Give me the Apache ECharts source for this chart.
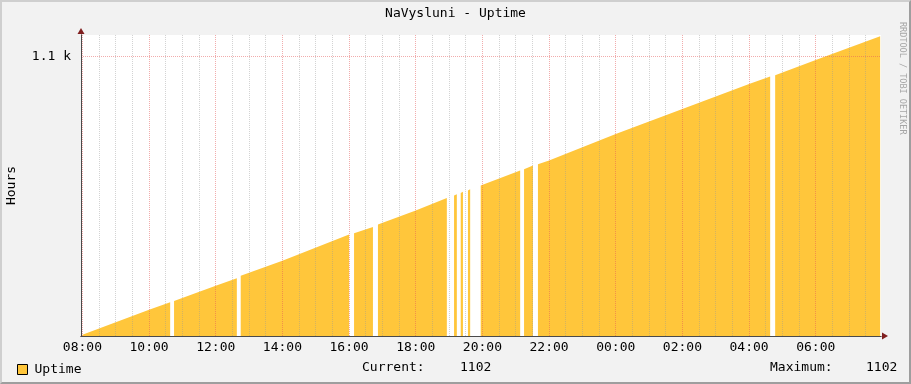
<!DOCTYPE html>
<html><head><meta charset="utf-8">
<script src="https://cdn.jsdelivr.net/npm/echarts@6/dist/echarts.min.js"></script>
<style>
html,body{margin:0;padding:0;background:#f2f2f2;}
#wrap{position:relative;width:911px;height:384px;overflow:hidden;}
#chart{position:absolute;left:0;top:0;width:911px;height:384px;}
#frame{position:absolute;left:0;top:0;width:911px;height:384px;box-sizing:border-box;border-top:2px solid #cfcfcf;border-left:2px solid #cfcfcf;border-right:2px solid #9e9e9e;border-bottom:2px solid #9e9e9e;pointer-events:none;}
</style></head><body>
<div id="wrap"><div id="chart"></div><div id="frame"></div></div>
<script>
// ---- data ----
const chartTitle = 'NaVysluni - Uptime';
const seriesName = 'Uptime';
const yAxisName = 'Hours';
const watermark = 'RRDTOOL / TOBI OETIKER';

// sample times (HH:MM, window starts 08:00, ends next morning); null values = no data (gaps)
const times = [
  '08:00','10:00','10:38','10:41',
  '10:45','12:00','12:38','12:41',
  '12:45','14:00','16:00','16:04',
  '16:09','16:43','16:47',
  '16:52','18:00','18:56','19:02',
  '19:09','19:14','19:17',
  '19:21','19:25','19:30',
  '19:34','19:38','19:47',
  '19:57','20:00','21:08','21:11',
  '21:15','21:31','21:35',
  '21:40','22:00','00:00','02:00','04:00','04:38','04:42',
  '04:47','06:00','07:56'
];
const uptime = [
  1077.8, 1079.8, 1080.4, null,
  1080.5, 1081.7, 1082.3, null,
  1082.5, 1083.7, 1085.8, null,
  1085.9, 1086.4, null,
  1086.6, 1087.7, 1088.7, null,
  1088.9, 1089.0, null,
  1089.1, 1089.2, null,
  1089.3, 1089.4, null,
  1089.7, 1089.8, 1090.9, null,
  1091.0, 1091.3, null,
  1091.4, 1091.7, 1093.8, 1095.8, 1097.8, 1098.4, null,
  1098.5, 1099.7, 1101.6
];
const xTickLabels = ['08:00','10:00','12:00','14:00','16:00','18:00','20:00','22:00','00:00','02:00','04:00','06:00'];
const yTickValues = [1100];

// ---- helpers ----
const FONT = '"DejaVu Sans Mono", monospace';
function toMin(s){ const p = s.split(':').map(Number); let v = p[0]*60 + p[1] - 480; if (v < 0) v += 1440; return v; }
function fmtMin(m){ const t = ((Math.round(m) + 480) % 1440 + 1440) % 1440; const h = Math.floor(t/60), mm = t % 60; return (h<10?'0':'')+h+':'+(mm<10?'0':'')+mm; }

const xMin = -2.5, xMax = 1437.5;
const yMin = 1077.7, yMax = 1101.7;
const majorTicks = xTickLabels.map(toMin);
const minorTicks = [];
for (let m = 0; m <= xMax; m += 30) { if (m % 120 !== 0) minorTicks.push(m); }

const seriesData = times.map((t, i) => [toMin(t), uptime[i] === null ? '-' : uptime[i]]);
const valid = uptime.filter(v => v !== null);
const current = Math.round(valid[valid.length - 1]);
const maximum = Math.round(Math.max.apply(null, valid));

const MAJOR = 'rgba(228,90,90,0.5)';
const MINOR = 'rgba(150,150,150,0.42)';

const chart = echarts.init(document.getElementById('chart'), null, {renderer: 'canvas'});
chart.setOption({
  animation: false,
  backgroundColor: '#f2f2f2',
  title: {
    text: chartTitle, left: 'center', top: 2,
    textStyle: {fontFamily: FONT, fontSize: 13, fontWeight: 'normal', color: '#000'}
  },
  legend: {
    data: [seriesName], left: 12, top: 358, icon: 'rect',
    itemWidth: 10, itemHeight: 10, itemGap: 10,
    itemStyle: {borderColor: '#000', borderWidth: 1},
    textStyle: {fontFamily: FONT, fontSize: 13, color: '#000', padding: [0,0,0,2]}
  },
  grid: {left: 81, right: 30, top: 35, bottom: 48, outerBoundsMode: 'none', containLabel: false,
    show: true, backgroundColor: '#ffffff', borderWidth: 0},
  xAxis: [{
    type: 'value', min: xMin, max: xMax, z: 4,
    axisLine: {show: true, onZero: false, lineStyle: {color: '#4a4a4a', width: 1}},
    axisTick: {show: false, customValues: majorTicks},
    axisLabel: {show: true, customValues: majorTicks, margin: 5, formatter: v => fmtMin(v),
      fontFamily: FONT, fontSize: 13, color: '#000'},
    splitLine: {show: true, lineStyle: {color: MAJOR, width: 1, type: [1,1]}}
  }, {
    type: 'value', min: xMin, max: xMax, position: 'bottom', z: 3,
    axisLine: {show: true, onZero: false, symbol: ['none','triangle'], symbolSize: [7,6], symbolOffset: [0, 4],
      lineStyle: {color: '#801f1f', width: 1}},
    axisTick: {show: false, customValues: minorTicks},
    axisLabel: {show: false},
    splitLine: {show: true, lineStyle: {color: MINOR, width: 1, type: [1,1]}}
  }],
  yAxis: [{
    type: 'value', min: yMin, max: yMax, z: 4,
    name: yAxisName, nameLocation: 'middle', nameGap: 63, nameRotate: 90,
    nameTextStyle: {fontFamily: FONT, fontSize: 13, color: '#000'},
    axisLine: {show: true, onZero: false, lineStyle: {color: '#4a4a4a', width: 1}},
    axisTick: {show: false, customValues: yTickValues},
    axisLabel: {show: true, customValues: yTickValues, margin: 10,
      formatter: v => (v/1000).toFixed(1) + ' k', fontFamily: FONT, fontSize: 13, color: '#000'},
    splitLine: {show: true, lineStyle: {color: MAJOR, width: 1, type: [1,1]}}
  }, {
    type: 'value', min: yMin, max: yMax, position: 'left', z: 3,
    axisLine: {show: true, onZero: false, symbol: ['none','triangle'], symbolSize: [7,6], symbolOffset: [0, 4],
      lineStyle: {color: '#801f1f', width: 1}},
    axisTick: {show: false}, axisLabel: {show: false}, splitLine: {show: false}
  }],
  series: [{
    name: seriesName, type: 'line', xAxisIndex: 0, yAxisIndex: 0, z: 1,
    data: seriesData, showSymbol: false, connectNulls: false,
    itemStyle: {color: '#FFC63B'},
    lineStyle: {width: 0, color: '#FFC63B'},
    areaStyle: {color: '#FFC63B', opacity: 1, origin: 'start'},
    silent: true
  }],
  graphic: [
    {type: 'text', x: 362, y: 368, style: {text: 'Current:', fontFamily: FONT, fontSize: 13, fill: '#000', textVerticalAlign: 'middle'}},
    {type: 'text', x: 460, y: 368, style: {text: String(current), fontFamily: FONT, fontSize: 13, fill: '#000', textVerticalAlign: 'middle'}},
    {type: 'text', x: 770, y: 368, style: {text: 'Maximum:', fontFamily: FONT, fontSize: 13, fill: '#000', textVerticalAlign: 'middle'}},
    {type: 'text', x: 866, y: 368, style: {text: String(maximum), fontFamily: FONT, fontSize: 13, fill: '#000', textVerticalAlign: 'middle'}},
    {type: 'text', x: 902, y: 22, rotation: -Math.PI/2, style: {text: watermark, fontFamily: FONT, fontSize: 8.5, fill: '#a6a6a6', textVerticalAlign: 'middle', textAlign: 'left'}}
  ]
});
</script>
</body></html>
